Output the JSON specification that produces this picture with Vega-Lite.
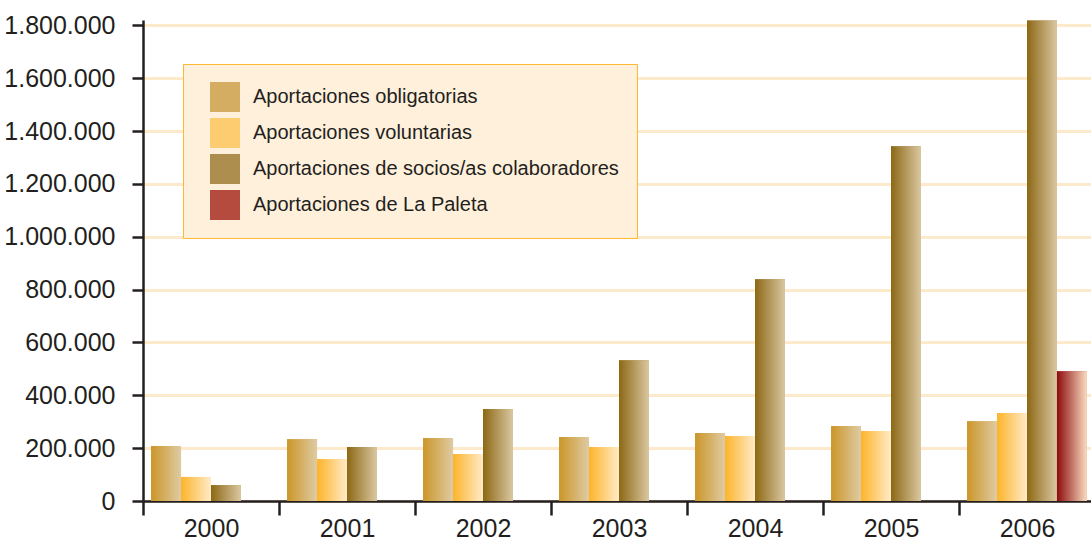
{
  "$schema": "https://vega.github.io/schema/vega-lite/v6.json",
  "autosize": {"type": "none"},
  "padding": {"left": 143, "top": 20, "right": 0, "bottom": 42},
  "width": 952,
  "height": 481,
  "background": "#ffffff",
  "config": {
    "view": {"stroke": null},
    "font": "Liberation Sans, Arial, sans-serif"
  },
  "data": {
    "values": [
      {"year": "2000", "serie": "Aportaciones obligatorias", "value": 208000},
      {"year": "2000", "serie": "Aportaciones voluntarias", "value": 91000},
      {"year": "2000", "serie": "Aportaciones de socios/as colaboradores", "value": 60000},
      {"year": "2001", "serie": "Aportaciones obligatorias", "value": 234000},
      {"year": "2001", "serie": "Aportaciones voluntarias", "value": 159000},
      {"year": "2001", "serie": "Aportaciones de socios/as colaboradores", "value": 204000},
      {"year": "2002", "serie": "Aportaciones obligatorias", "value": 238000},
      {"year": "2002", "serie": "Aportaciones voluntarias", "value": 178000},
      {"year": "2002", "serie": "Aportaciones de socios/as colaboradores", "value": 348000},
      {"year": "2003", "serie": "Aportaciones obligatorias", "value": 242000},
      {"year": "2003", "serie": "Aportaciones voluntarias", "value": 204000},
      {"year": "2003", "serie": "Aportaciones de socios/as colaboradores", "value": 533000},
      {"year": "2004", "serie": "Aportaciones obligatorias", "value": 257000},
      {"year": "2004", "serie": "Aportaciones voluntarias", "value": 246000},
      {"year": "2004", "serie": "Aportaciones de socios/as colaboradores", "value": 839000},
      {"year": "2005", "serie": "Aportaciones obligatorias", "value": 284000},
      {"year": "2005", "serie": "Aportaciones voluntarias", "value": 265000},
      {"year": "2005", "serie": "Aportaciones de socios/as colaboradores", "value": 1342000},
      {"year": "2006", "serie": "Aportaciones obligatorias", "value": 302000},
      {"year": "2006", "serie": "Aportaciones voluntarias", "value": 333000},
      {"year": "2006", "serie": "Aportaciones de socios/as colaboradores", "value": 1818000},
      {"year": "2006", "serie": "Aportaciones de La Paleta", "value": 491000}
    ]
  },
  "encoding": {
    "x": {
      "field": "year",
      "type": "nominal",
      "scale": {"paddingInner": 0, "paddingOuter": 0},
      "axis": {
        "title": null,
        "labelAngle": 0,
        "labelFontSize": 25,
        "labelColor": "#231F20",
        "labelPadding": 1,
        "tickBand": "extent",
        "tickSize": 14,
        "tickWidth": 2.5,
        "tickColor": "#231F20",
        "domainColor": "#231F20",
        "domainWidth": 2.5,
        "grid": false
      }
    },
    "xOffset": {
      "field": "serie",
      "type": "nominal",
      "scale": {
        "domain": ["Aportaciones obligatorias", "Aportaciones voluntarias", "Aportaciones de socios/as colaboradores", "Aportaciones de La Paleta"],
        "paddingInner": 0,
        "paddingOuter": 0.27
      }
    },
    "y": {
      "field": "value",
      "type": "quantitative",
      "scale": {"domain": [0, 1820000], "nice": false},
      "axis": {
        "title": null,
        "values": [0, 200000, 400000, 600000, 800000, 1000000, 1200000, 1400000, 1600000, 1800000],
        "labelExpr": "replace(replace(format(datum.value, ','), ',', '.'), ',', '.')",
        "labelFontSize": 25,
        "labelColor": "#231F20",
        "labelPadding": 17,
        "tickSize": 11,
        "tickWidth": 2.5,
        "tickColor": "#231F20",
        "domainColor": "#231F20",
        "domainWidth": 2.5,
        "grid": true,
        "gridColor": "#FDEACB",
        "gridWidth": 3
      }
    }
  },
  "layer": [
    {
      "mark": {"type": "bar", "stroke": null},
      "encoding": {
        "fill": {
          "field": "serie",
          "type": "nominal",
          "scale": {
            "domain": ["Aportaciones obligatorias", "Aportaciones voluntarias", "Aportaciones de socios/as colaboradores", "Aportaciones de La Paleta"],
            "range": ["#D4AD62", "#FECC70", "#AE8E4E", "#B54A3E"]
          },
          "legend": {
            "title": null,
            "orient": "none",
            "legendX": 40,
            "legendY": 44,
            "fillColor": "#FFF0DC",
            "strokeColor": "#FDB933",
            "padding": 18,
            "symbolOffset": 9,
            "symbolType": "square",
            "symbolSize": 900,
            "symbolStrokeWidth": 0,
            "labelFontSize": 20,
            "labelColor": "#231F20",
            "labelLimit": 500,
            "labelOffset": 13,
            "rowPadding": 6
          }
        }
      }
    },
    {
      "mark": {
        "type": "bar",
        "stroke": null,
        "fill": {"expr": "datum.serie == 'Aportaciones obligatorias' ? {gradient: 'linear', x1: 0, y1: 0, x2: 1, y2: 0, stops: [{offset: 0, color: '#CC9628'}, {offset: 1, color: '#DECBA4'}]} : datum.serie == 'Aportaciones voluntarias' ? {gradient: 'linear', x1: 0, y1: 0, x2: 1, y2: 0, stops: [{offset: 0, color: '#FDB42A'}, {offset: 1, color: '#FFEBC8'}]} : datum.serie == 'Aportaciones de socios/as colaboradores' ? {gradient: 'linear', x1: 0, y1: 0, x2: 1, y2: 0, stops: [{offset: 0, color: '#8C6814'}, {offset: 1, color: '#DBC8A2'}]} : {gradient: 'linear', x1: 0, y1: 0, x2: 1, y2: 0, stops: [{offset: 0, color: '#8C0C0C'}, {offset: 1, color: '#FADDC2'}]}"}
      }
    }
  ]
}
